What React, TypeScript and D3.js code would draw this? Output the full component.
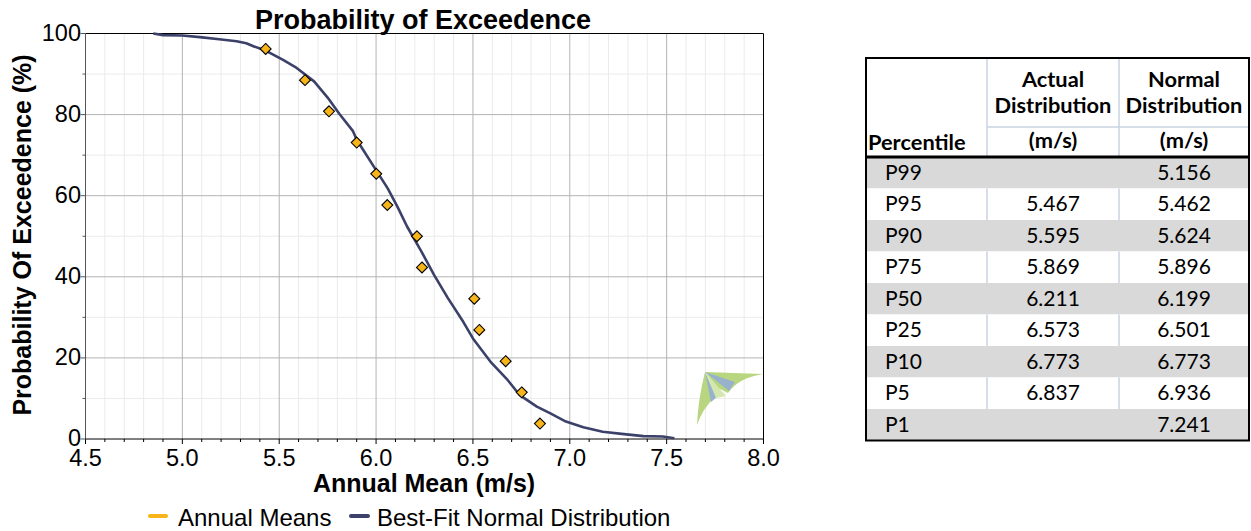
import React from "react";
import * as d3 from "d3";

// Annual mean wind speeds (m/s) with their plotted exceedance probability (%)
const annualMeans = [5.43, 5.633, 5.757, 5.9, 6.001, 6.058, 6.211, 6.237, 6.507, 6.533, 6.669, 6.752, 6.846];
const annualExceedence = [96.2, 88.5, 80.8, 73.1, 65.4, 57.7, 50.0, 42.3, 34.6, 26.9, 19.2, 11.5, 3.8];

// Best-fit normal distribution exceedance curve
const fitSpeed = [
  4.85, 4.9, 5.0, 5.09, 5.19, 5.28, 5.33, 5.37, 5.43, 5.52, 5.59, 5.68, 5.75, 5.81, 5.88, 5.9, 6.0,
  6.06, 6.11, 6.16, 6.23, 6.3, 6.37, 6.45, 6.5, 6.59, 6.68, 6.74, 6.83, 6.9, 6.98, 7.07, 7.17,
  7.28, 7.38, 7.48, 7.54,
];
const fitExceedence = [
  100, 99.6, 99.5, 99.1, 98.6, 98.1, 97.6, 96.8, 95.8, 93.5, 91.5, 88.2, 84.2, 80.2, 76.0, 73.8, 66.3,
  61.8, 57.3, 52.4, 46.6, 40.4, 34.8, 28.9, 24.8, 19.1, 14.5, 10.9, 8.0, 6.3, 4.3, 2.9, 1.8,
  1.2, 0.7, 0.6, 0.2,
];

const xTickLabels = ["4.5", "5.0", "5.5", "6.0", "6.5", "7.0", "7.5", "8.0"];
const yTickLabels = ["0", "20", "40", "60", "80", "100"];

// Percentile table
const percentiles = ["P99", "P95", "P90", "P75", "P50", "P25", "P10", "P5", "P1"];
const actualDist = ["", "5.467", "5.595", "5.869", "6.211", "6.573", "6.773", "6.837", ""];
const normalDist = ["5.156", "5.462", "5.624", "5.896", "6.199", "6.501", "6.773", "6.936", "7.241"];

const FONT = "'Liberation Sans', Arial, Helvetica, sans-serif";
const TFONT = "Lato, 'Open Sans', sans-serif";
const NAVY = "#3b4169";
const GOLD = "#f7b519";

export default function App() {
  const left = 85.5, right = 763.5, top = 33.5, bottom = 439;
  const x = d3.scaleLinear().domain([4.5, 8]).range([left, right]);
  const y = d3.scaleLinear().domain([0, 100]).range([bottom, top]);

  const minorX = d3.range(46, 80).map((v) => v / 10).filter((v) => Math.round(v * 10) % 5 !== 0);
  const majorX = xTickLabels.map(Number);
  const minorY = [10, 30, 50, 70, 90];
  const majorY = yTickLabels.map(Number);

  const line = d3
    .line<number>()
    .x((_, i) => x(fitSpeed[i]))
    .y((d) => y(d));

  const diamond = d3.symbol().type(d3.symbolDiamond2).size(76)() as string;

  // table geometry
  const c0 = 866, c1 = 987, c2 = 1119, c3 = 1249;
  const hTop = 58, hMid = 127, hBot = 157;
  const rowH = 31.5;
  const rowTop = (i: number) => hBot + i * rowH;
  const tBottom = rowTop(percentiles.length);

  return (
    <div style={{ position: "absolute", left: 0, top: 0 }}>
      <svg width={1251} height={531} style={{ display: "block", background: "#fff" }}>
        {/* grid */}
        {minorX.map((v) => (
          <line key={"mx" + v} x1={x(v)} x2={x(v)} y1={top} y2={bottom} stroke="#ebebeb" strokeWidth={1} />
        ))}
        {minorY.map((v) => (
          <line key={"my" + v} x1={left} x2={right} y1={y(v)} y2={y(v)} stroke="#ebebeb" strokeWidth={1} />
        ))}
        {majorX.slice(1, -1).map((v) => (
          <line key={"Mx" + v} x1={x(v)} x2={x(v)} y1={top} y2={bottom} stroke="#b3b3b3" strokeWidth={1} />
        ))}
        {majorY.slice(1, -1).map((v) => (
          <line key={"My" + v} x1={left} x2={right} y1={y(v)} y2={y(v)} stroke="#b3b3b3" strokeWidth={1} />
        ))}

        {/* frame */}
        <line x1={left} x2={right} y1={top} y2={top} stroke="#000" />
        <line x1={right} x2={right} y1={top} y2={bottom} stroke="#000" />
        <line x1={left} x2={left} y1={top} y2={bottom} stroke="#555" />
        <line x1={left} x2={right} y1={bottom} y2={bottom} stroke="#000" />

        {/* x ticks */}
        {d3.range(45, 81).map((k) => {
          const v = k / 10;
          const major = k % 5 === 0;
          return <line key={"xt" + k} x1={x(v)} x2={x(v)} y1={bottom} y2={bottom + (major ? 5 : 3)} stroke="#000" />;
        })}
        {xTickLabels.map((t) => (
          <text key={"xl" + t} x={x(+t)} y={466} textAnchor="middle" fontFamily={FONT} fontSize={23.5} fill="#000">
            {t}
          </text>
        ))}

        {/* y ticks */}
        {d3.range(0, 101, 10).map((v) => (
          <line key={"yt" + v} x1={left - (v % 20 === 0 ? 5 : 3)} x2={left} y1={y(v)} y2={y(v)} stroke="#555" />
        ))}
        {yTickLabels.map((t) => (
          <text key={"yl" + t} x={81} y={y(+t) - 1} dy="0.35em" textAnchor="end" fontFamily={FONT} fontSize={23.5} fill="#000">
            {t}
          </text>
        ))}

        {/* logo */}
        <g>
          <path d="M705,372 L763,374 Q738,378 728,393 L718,388 Z" fill="#b8d67f" />
          <path d="M705,372 L714,398 Q703,408 697,425 Q698,400 705,372 Z" fill="#b8d67f" />
          <path d="M705,372 L735,382 L729,391 Z" fill="#98b2cc" />
          <path d="M705,372 L717,397 L711,402 Z" fill="#98b2cc" />
          <path d="M705,372 L726,396 L716,398 Z" fill="#d3e7ae" />
        </g>

        {/* best-fit curve */}
        <path d={line(fitExceedence) || ""} fill="none" stroke={NAVY} strokeWidth={2.6} strokeLinejoin="round" />

        {/* annual means */}
        {annualMeans.map((v, i) => (
          <path
            key={"pt" + i}
            d={diamond}
            transform={`translate(${x(v)},${y(annualExceedence[i])})`}
            fill={GOLD}
            stroke="#000"
            strokeWidth={1.1}
          />
        ))}

        {/* titles */}
        <text x={423} y={29} textAnchor="middle" fontFamily={FONT} fontSize={27} fontWeight="bold">
          Probability of Exceedence
        </text>
        <text x={424} y={492} textAnchor="middle" fontFamily={FONT} fontSize={25} fontWeight="bold">
          Annual Mean (m/s)
        </text>
        <text
          transform="translate(31,235) rotate(-90)"
          textAnchor="middle"
          fontFamily={FONT}
          fontSize={25}
          fontWeight="bold"
        >
          Probability Of Exceedence (%)
        </text>

        {/* legend */}
        <line x1={150} x2={166} y1={516} y2={516} stroke={GOLD} strokeWidth={4} strokeLinecap="round" />
        <text x={178} y={526} fontFamily={FONT} fontSize={24}>Annual Means</text>
        <line x1={351} x2={368} y1={516} y2={516} stroke={NAVY} strokeWidth={4} strokeLinecap="round" />
        <text x={377} y={526} fontFamily={FONT} fontSize={24}>Best-Fit Normal Distribution</text>

        {/* percentile table */}
        {percentiles.map((p, i) => (
          <rect key={"bg" + p} x={c0} y={rowTop(i)} width={c3 - c0} height={rowH} fill={i % 2 === 0 ? "#d9d9d9" : "#fff"} />
        ))}
        {percentiles.map((p, i) =>
          i % 2 === 1 ? (
            <g key={"sep" + p}>
              <line x1={c1} x2={c1} y1={rowTop(i)} y2={rowTop(i) + rowH} stroke="#c9d3e2" strokeWidth={1.5} />
              <line x1={c2} x2={c2} y1={rowTop(i)} y2={rowTop(i) + rowH} stroke="#c9d3e2" strokeWidth={1.5} />
            </g>
          ) : null
        )}
        <line x1={c1} x2={c1} y1={hTop} y2={hBot} stroke="#c9d3e2" strokeWidth={1.5} />
        <line x1={c2} x2={c2} y1={hTop} y2={hBot} stroke="#c9d3e2" strokeWidth={1.5} />
        <line x1={c1} x2={c3} y1={hMid} y2={hMid} stroke="#c9d3e2" strokeWidth={1.5} />
        <line x1={c0} x2={c3} y1={hBot} y2={hBot} stroke="#000" strokeWidth={3} />
        <rect x={c0} y={hTop} width={c3 - c0} height={tBottom - hTop} fill="none" stroke="#000" strokeWidth={2} />

        <g fontFamily={TFONT} fontWeight="bold" fontSize={21.8} fill="#000">
          <text x={(c1 + c2) / 2} y={87} textAnchor="middle">Actual</text>
          <text x={(c1 + c2) / 2} y={113} textAnchor="middle">Distribution</text>
          <text x={(c1 + c2) / 2} y={148} textAnchor="middle">(m/s)</text>
          <text x={(c2 + c3) / 2} y={87} textAnchor="middle">Normal</text>
          <text x={(c2 + c3) / 2} y={113} textAnchor="middle">Distribution</text>
          <text x={(c2 + c3) / 2} y={148} textAnchor="middle">(m/s)</text>
          <text x={868} y={150}>Percentile</text>
        </g>
        <g fontFamily={TFONT} fontSize={21} fill="#000">
          {percentiles.map((p, i) => {
            const base = rowTop(i) + rowH / 2 + 7;
            return (
              <g key={"row" + p}>
                <text x={885} y={base}>{p}</text>
                <text x={(c1 + c2) / 2} y={base} textAnchor="middle">{actualDist[i]}</text>
                <text x={(c2 + c3) / 2} y={base} textAnchor="middle">{normalDist[i]}</text>
              </g>
            );
          })}
        </g>
      </svg>
    </div>
  );
}
